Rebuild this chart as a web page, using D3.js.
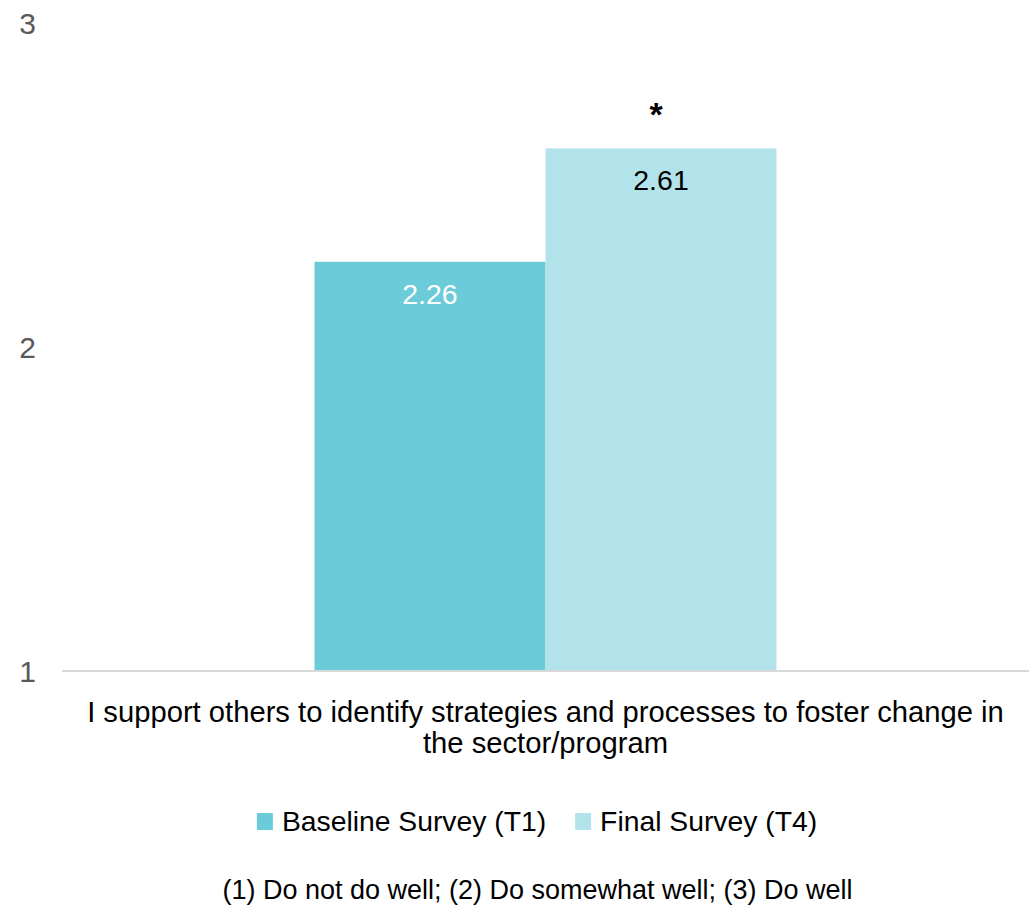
<!DOCTYPE html>
<html>
<head>
<meta charset="utf-8">
<script src="https://cdn.jsdelivr.net/npm/d3@7"></script>
<style>
  html, body { margin: 0; padding: 0; background: #fff; }
  svg { display: block; font-family: "Liberation Sans", Arial, Helvetica, sans-serif; }
</style>
</head>
<body>
<svg id="chart" width="1031" height="907"></svg>
<script>
// ---- data ----
const categories = ["I support others to identify strategies and processes to foster change in the sector/program"];
const categoryLines = ["I support others to identify strategies and processes to foster change in", "the sector/program"];
const seriesNames = ["Baseline Survey (T1)", "Final Survey (T4)"];
const seriesValues = [2.26, 2.61];
const valueLabels = ["2.26", "2.61"];
const significance = ["", "*"];
const tickValues = [1, 2, 3];
const footnote = "(1) Do not do well; (2) Do somewhat well; (3) Do well";

// ---- styles ----
const colors = ["#6ccbd8", "#b3e3ea"];
const labelColors = ["#ffffff", "#000000"];

const svg = d3.select("#chart");

const y = d3.scaleLinear().domain([1, 3]).range([670, 22]);
const x0 = d3.scaleBand().domain(categories).range([62, 1029]).paddingInner(0).paddingOuter(0.5465);
const x1 = d3.scaleBand().domain(seriesNames).range([0, x0.bandwidth()]).padding(0);

// y tick labels (no axis line)
const yAxis = d3.axisLeft(y).tickValues(tickValues).tickSize(0).tickPadding(0).tickFormat(d3.format("d"));
const yg = svg.append("g").attr("transform", "translate(36,0)").call(yAxis);
yg.select(".domain").remove();
yg.selectAll("text")
  .attr("fill", "#595959")
  .attr("font-size", 30)
  .attr("font-family", "Liberation Sans, Arial, sans-serif")
  .attr("dy", "0.37em");

// bars
const g = svg.append("g").attr("transform", `translate(${x0(categories[0])},0)`);
const data = seriesNames.map((s, i) => ({ s, v: seriesValues[i], label: valueLabels[i], sig: significance[i], i }));

g.selectAll("rect.bar").data(data).enter().append("rect")
  .attr("class", "bar")
  .attr("x", d => x1(d.s))
  .attr("width", x1.bandwidth())
  .attr("y", d => y(d.v))
  .attr("height", d => y(1) - y(d.v))
  .attr("fill", d => colors[d.i]);

// value labels
g.selectAll("text.val").data(data).enter().append("text")
  .attr("class", "val")
  .attr("x", d => x1(d.s) + x1.bandwidth() / 2)
  .attr("y", d => y(d.v) + 42)
  .attr("text-anchor", "middle")
  .attr("font-size", 28.5)
  .attr("fill", d => labelColors[d.i])
  .text(d => d.label);

// significance marks
g.selectAll("text.sig").data(data.filter(d => d.sig)).enter().append("text")
  .attr("class", "sig")
  .attr("x", d => x1(d.s) + x1.bandwidth() / 2 - 5)
  .attr("y", d => y(d.v) - 22)
  .attr("text-anchor", "middle")
  .attr("font-size", 34)
  .attr("font-weight", "bold")
  .attr("fill", "#000")
  .text(d => d.sig);

// baseline axis line
svg.append("line")
  .attr("x1", x0.range()[0]).attr("x2", x0.range()[1])
  .attr("y1", y(1) + 1).attr("y2", y(1) + 1)
  .attr("stroke", "#d9d9d9").attr("stroke-width", 2);

// category label
const cx = x0(categories[0]) + x0.bandwidth() / 2;
svg.append("g").selectAll("text").data(categoryLines).enter().append("text")
  .attr("x", cx)
  .attr("y", (d, i) => 722 + i * 31)
  .attr("text-anchor", "middle")
  .attr("font-size", 29.2)
  .attr("fill", "#000")
  .text(d => d);

// legend
const legend = svg.append("g");
let lx = 0;
seriesNames.forEach((s, i) => {
  const item = legend.append("g").attr("transform", `translate(${lx},0)`);
  item.append("rect").attr("x", 0).attr("y", 813).attr("width", 16).attr("height", 17).attr("fill", colors[i]);
  const t = item.append("text").attr("x", 25).attr("y", 831).attr("font-size", 28.3).attr("fill", "#000").text(s);
  const w = t.node().getComputedTextLength();
  lx += 25 + w + 29;
});
const legendWidth = lx - 29;
legend.attr("transform", `translate(${537 - legendWidth / 2},0)`);

// footnote
svg.append("text")
  .attr("x", 537.5).attr("y", 899)
  .attr("text-anchor", "middle")
  .attr("font-size", 27)
  .attr("fill", "#000")
  .text(footnote);
</script>
</body>
</html>
